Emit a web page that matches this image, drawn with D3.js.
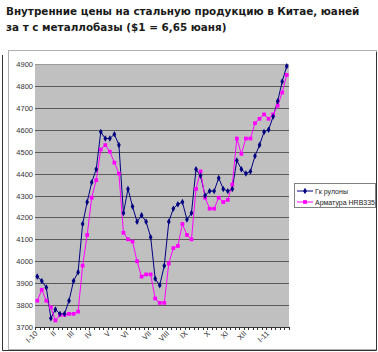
<!DOCTYPE html>
<html>
<head>
<meta charset="utf-8">
<script src="https://cdn.jsdelivr.net/npm/d3@7"></script>
<style>
  body { margin: 0; background: #fff; }
  svg { display: block; }
</style>
</head>
<body>
<div id="chart"></div>
<script>
// Weekly steel prices in China, yuan per tonne

const weeks = d3.range(56);

// Гк рулоны (hot-rolled coil)
const coilPrices = [3930, 3910, 3880, 3740, 3780, 3760, 3760, 3820, 3910, 3950,
  4170, 4270, 4360, 4420, 4590, 4560, 4560, 4580, 4530, 4220,
  4330, 4250, 4180, 4210, 4180, 4110, 3920, 3890, 3980, 4180,
  4240, 4260, 4270, 4190, 4220, 4420, 4390, 4300, 4320, 4320,
  4380, 4330, 4320, 4330, 4460, 4420, 4400, 4410, 4480, 4530,
  4590, 4600, 4660, 4730, 4820, 4890];

// Арматура HRB335 (rebar)
const rebarPrices = [3820, 3870, 3820, 3790, 3730, 3755, 3755, 3760, 3760, 3770,
  3980, 4120, 4290, 4370, 4510, 4530, 4500, 4450, 4400, 4130,
  4100, 4090, 4000, 3930, 3940, 3940, 3830, 3810, 3810, 3990,
  4060, 4070, 4170, 4120, 4100, 4330, 4410, 4290, 4240, 4240,
  4290, 4270, 4280, 4350, 4560, 4490, 4560, 4560, 4630, 4650,
  4670, 4650, 4670, 4710, 4770, 4850];

const monthLabels = ["I-10", "II", "III", "IV", "V", "VI", "VII", "VIII", "IX", "X", "XI", "XII", "I-11"];
const monthWeekIndex = [0, 4, 8, 12, 16, 20, 25, 29, 33, 38, 42, 46, 51];

const yTicks = d3.range(3700, 4901, 100);

const seriesNames = ["Гк рулоны", "Арматура HRB335"];
const seriesColors = ["#000080", "#ff00ff"];

const width = 378, height = 352;
const plot = { left: 35, right: 289, top: 64, bottom: 327 };

const svg = d3.select("#chart").append("svg")
  .attr("width", width)
  .attr("height", height);

// frame round the chart object
svg.append("rect")
  .attr("x", 8.5).attr("y", 50.5)
  .attr("width", 368).attr("height", 299)
  .attr("fill", "none")
  .attr("stroke", "#b0b0b0");
svg.append("path")
  .attr("d", "M2.5,55V350.5H376.5V52")
  .attr("fill", "none")
  .attr("stroke", "#333");

// title
const title = svg.append("text")
  .attr("font-family", "DejaVu Sans")
  .attr("font-weight", "bold")
  .attr("font-size", 10.4)
  .attr("fill", "#1a1a1a");
title.append("tspan").attr("x", 6).attr("y", 15)
  .text("Внутренние цены на стальную продукцию в Китае, юаней");
title.append("tspan").attr("x", 6).attr("y", 31)
  .text("за т с металлобазы ($1 = 6,65 юаня)");

const x = d3.scaleBand()
  .domain(weeks)
  .range([plot.left, plot.right]);

const y = d3.scaleLinear()
  .domain([3700, 4900])
  .range([plot.bottom, plot.top]);

const cx = i => x(i) + x.bandwidth() / 2;

// plot background
svg.append("rect")
  .attr("x", plot.left).attr("y", plot.top)
  .attr("width", plot.right - plot.left)
  .attr("height", plot.bottom - plot.top)
  .attr("fill", "#c0c0c0");

// gridlines
svg.append("g")
  .selectAll("line")
  .data(yTicks.slice(1))
  .enter().append("line")
  .attr("x1", plot.left).attr("x2", plot.right)
  .attr("y1", d => Math.round(y(d)) + 0.5)
  .attr("y2", d => Math.round(y(d)) + 0.5)
  .attr("stroke", d => d === 4900 ? "#9a9a9a" : "#5a5a5a")
  .attr("stroke-width", 1);

// y axis labels
svg.append("g")
  .selectAll("text")
  .data(yTicks)
  .enter().append("text")
  .attr("x", 33)
  .attr("y", d => y(d) + 3)
  .attr("text-anchor", "end")
  .attr("font-family", "Liberation Sans")
  .attr("font-size", 7.5)
  .attr("fill", "#333")
  .text(d => d);

// x axis line and ticks
svg.append("line")
  .attr("x1", plot.left).attr("x2", plot.right)
  .attr("y1", plot.bottom + 0.5).attr("y2", plot.bottom + 0.5)
  .attr("stroke", "#333");
svg.append("g")
  .selectAll("line")
  .data(weeks.concat([weeks.length]))
  .enter().append("line")
  .attr("x1", d => Math.round(d < weeks.length ? x(d) : plot.right) + 0.5)
  .attr("x2", d => Math.round(d < weeks.length ? x(d) : plot.right) + 0.5)
  .attr("y1", plot.bottom).attr("y2", plot.bottom + 3)
  .attr("stroke", "#333");

// month labels, rotated
svg.append("g")
  .selectAll("text")
  .data(monthLabels)
  .enter().append("text")
  .attr("transform", (d, i) => `translate(${cx(monthWeekIndex[i]) + 1},${plot.bottom + 7}) rotate(-45)`)
  .attr("text-anchor", "end")
  .attr("font-family", "Liberation Sans")
  .attr("font-size", 7.5)
  .attr("fill", "#333")
  .text(d => d);

// series lines
const line = d3.line()
  .x((d, i) => cx(i))
  .y(d => y(d));

[coilPrices, rebarPrices].forEach((values, s) => {
  svg.append("path")
    .datum(values)
    .attr("d", line)
    .attr("fill", "none")
    .attr("stroke", seriesColors[s])
    .attr("stroke-width", 1);
});

// markers
const diamond = d3.symbol().type(d3.symbolDiamond).size(12);
const square = d3.symbol().type(d3.symbolSquare).size(14);

svg.append("g")
  .selectAll("path")
  .data(rebarPrices)
  .enter().append("path")
  .attr("d", square)
  .attr("transform", (d, i) => `translate(${cx(i)},${y(d)})`)
  .attr("fill", seriesColors[1]);

svg.append("g")
  .selectAll("path")
  .data(coilPrices)
  .enter().append("path")
  .attr("d", diamond)
  .attr("transform", (d, i) => `translate(${cx(i)},${y(d)})`)
  .attr("fill", seriesColors[0]);

// legend
const legend = svg.append("g");
legend.append("rect")
  .attr("x", 294.5).attr("y", 183.5)
  .attr("width", 81).attr("height", 24)
  .attr("fill", "#fff")
  .attr("stroke", "#808080");

seriesNames.forEach((name, s) => {
  const ly = 191 + s * 11;
  legend.append("line")
    .attr("x1", 297).attr("x2", 313)
    .attr("y1", ly).attr("y2", ly)
    .attr("stroke", seriesColors[s]);
  legend.append("path")
    .attr("d", s === 0 ? diamond : square)
    .attr("transform", `translate(305,${ly})`)
    .attr("fill", seriesColors[s]);
  legend.append("text")
    .attr("x", 315).attr("y", ly + 2.5)
    .attr("font-family", "Liberation Sans")
    .attr("font-size", 7)
    .attr("fill", "#222")
    .text(name);
});
</script>
</body>
</html>
